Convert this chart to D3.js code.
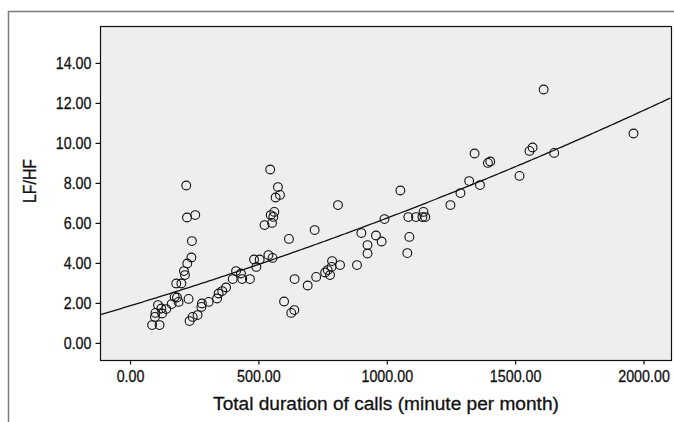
<!DOCTYPE html>
<html>
<head>
<meta charset="utf-8">
<script src="https://cdn.jsdelivr.net/npm/d3@7"></script>
<style>
    html, body { margin: 0; padding: 0; background: #fff; }
    svg text { font-family: "Liberation Sans", Arial, sans-serif; fill: #111; stroke: #111; stroke-width: 0.3px; }
</style>
</head>
<body>
<svg id="chart" width="674" height="422"></svg>
<script>
    // total call duration (minute per month)
    var callMinutes = [219, 222, 254, 241, 239, 223, 210, 214, 180, 200,
        174, 183, 189, 162, 228, 109, 99, 122, 125, 141,
        97, 86, 115, 232, 244, 263, 278, 280, 306, 339,
        345, 359, 374, 400, 413, 432, 437, 467, 483, 505,
        492, 539, 555, 524, 553, 548, 558, 562, 567, 584,
        576, 546, 619, 600, 628, 640, 641, 692, 719, 725,
        760, 770, 779, 785, 787, 810, 818, 884, 901, 925,
        925, 958, 980, 991, 1053, 1080, 1084, 1088, 1114, 1139,
        1143, 1150, 1248, 1287, 1321, 1342, 1363, 1394, 1403, 1517,
        1556, 1568, 1611, 1652, 1961]

    // LF/HF ratio, same order as callMinutes
    var lfhf = [7.87, 6.27, 6.39, 5.09, 4.27, 3.97, 3.59, 3.39, 2.97, 2.97,
        2.30, 2.27, 2.05, 1.94, 2.20, 1.89, 1.50, 1.72, 1.47, 1.69,
        1.30, 0.89, 0.89, 1.09, 1.30, 1.39, 1.80, 1.97, 2.05, 2.22,
        2.47, 2.59, 2.77, 3.19, 3.59, 3.47, 3.19, 3.19, 4.17, 4.17,
        3.80, 4.39, 4.25, 5.89, 6.00, 6.39, 6.30, 6.55, 7.27, 7.40,
        7.79, 8.67, 5.20, 2.07, 1.50, 1.64, 3.19, 2.87, 5.64, 3.30,
        3.52, 3.64, 3.39, 3.80, 4.09, 6.89, 3.89, 3.89, 5.49, 4.89,
        4.47, 5.37, 5.07, 6.19, 7.62, 4.49, 6.29, 5.30, 6.29, 6.29,
        6.55, 6.29, 6.89, 7.49, 8.09, 9.47, 7.89, 9.00, 9.07, 8.35,
        9.60, 9.77, 12.67, 9.50, 10.47]

    var xTicks = [0, 500, 1000, 1500, 2000]
    var yTicks = [0, 2, 4, 6, 8, 10, 12, 14]

    // quadratic fit line: a + b*x + c*x^2
    var fitCoef = [1.855, 0.00388, 5.02e-7]

    var svg = d3.select("#chart")
    var pLeft = 100.5, pRight = 671.5, pTop = 26.5, pBottom = 360.5

    var x = d3.scaleLinear().domain([-115, 2109]).range([pLeft, pRight])
    var y = d3.scaleLinear().domain([-0.88, 15.82]).range([pBottom, pTop])

    // the original uses a condensed face, so squeeze or widen the glyphs
    function condense(sel, f) {
        sel.each(function () {
            var w = this.getComputedTextLength()
            this.setAttribute("textLength", w * f)
            this.setAttribute("lengthAdjust", "spacingAndGlyphs")
        })
    }

    // outer frame
    svg.append("path")
        .attr("d", "M8.5,430 V11.5 H680")
        .attr("fill", "none")
        .attr("stroke", "#7a7a7a")
        .attr("stroke-width", 1.5)

    svg.append("rect")
        .attr("x", pLeft).attr("y", pTop)
        .attr("width", pRight - pLeft).attr("height", pBottom - pTop)
        .attr("fill", "#eeeeee")

    var fmt = d3.format(".2f")

    var gx = svg.append("g")
        .attr("transform", "translate(0," + pBottom + ")")
        .call(d3.axisBottom(x).tickValues(xTicks).tickFormat(fmt).tickSize(4).tickPadding(5).tickSizeOuter(0))
    var gy = svg.append("g")
        .attr("transform", "translate(" + pLeft + ",0)")
        .call(d3.axisLeft(y).tickValues(yTicks).tickFormat(fmt).tickSize(5).tickPadding(4).tickSizeOuter(0))

    ;[gx, gy].forEach(function (g) {
        g.select(".domain").remove()
        g.selectAll(".tick line").attr("stroke", "#111").attr("stroke-width", 1.2)
        g.selectAll(".tick text").style("font-size", "17px").call(condense, 0.84)
    })

    // fit curve
    var curveX = d3.range(-115, 2110, 10)
    var line = d3.line()
        .x(function (d) { return x(d) })
        .y(function (d) { return y(fitCoef[0] + fitCoef[1] * d + fitCoef[2] * d * d) })

    svg.append("defs").append("clipPath").attr("id", "clip")
        .append("rect").attr("x", pLeft).attr("y", pTop)
        .attr("width", pRight - pLeft).attr("height", pBottom - pTop)

    svg.append("path")
        .datum(curveX)
        .attr("clip-path", "url(#clip)")
        .attr("d", line)
        .attr("fill", "none")
        .attr("stroke", "#111")
        .attr("stroke-width", 1.3)

    svg.append("g").selectAll("circle")
        .data(callMinutes)
        .enter().append("circle")
        .attr("cx", function (d) { return x(d) })
        .attr("cy", function (d, i) { return y(lfhf[i]) })
        .attr("r", 4.4)
        .attr("fill", "none")
        .attr("stroke", "#111")
        .attr("stroke-width", 1.1)

    // plot border
    svg.append("rect")
        .attr("x", pLeft).attr("y", pTop)
        .attr("width", pRight - pLeft).attr("height", pBottom - pTop)
        .attr("fill", "none")
        .attr("stroke", "#111")
        .attr("stroke-width", 1.2)

    svg.append("text")
        .attr("x", (pLeft + pRight) / 2)
        .attr("y", 410)
        .attr("text-anchor", "middle")
        .style("font-size", "18px")
        .text("Total duration of calls (minute per month)")
        .call(condense, 1.06)

    svg.append("text")
        .attr("transform", "translate(36,181) rotate(-90)")
        .attr("text-anchor", "middle")
        .style("font-size", "18px")
        .text("LF/HF")
        .call(condense, 0.88)
</script>
</body>
</html>
